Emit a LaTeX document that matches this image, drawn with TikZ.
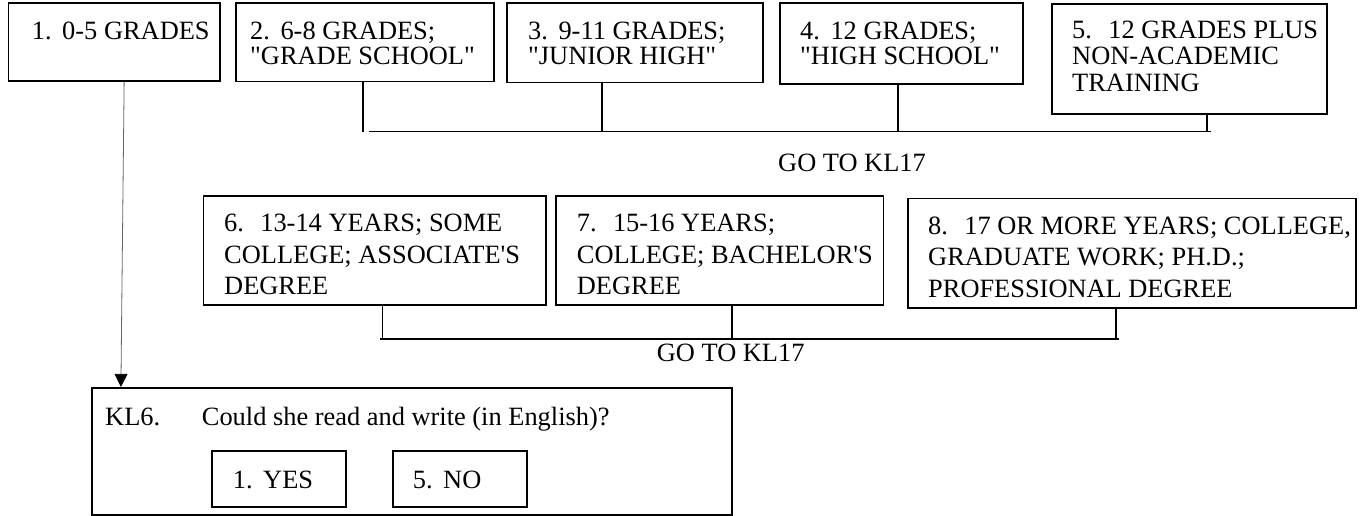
\documentclass[tikz,border=0pt]{standalone}
\usepackage{fontspec}
\setmainfont{Liberation Serif}
\usetikzlibrary{arrows.meta, fit}

\newcommand\tstrut{\rule{0pt}{19pt}}

\begin{document}
\begin{tikzpicture}[
x=1pt, y=-1pt,
box/.style={draw, line width=1.6pt, inner sep=0pt},
txt/.style={anchor=north west, inner sep=0pt, align=left, font=\fontsize{26.4}{25}\selectfont},
wide/.style={txt, font=\fontsize{26.4}{31.4}\selectfont},
link/.style={line width=1.6pt},
thinlink/.style={-{Triangle[width=13pt,length=13pt,color=black]}, line width=0.8pt, draw=black!60}
]
\useasboundingbox (0,0) rectangle (1362,516);

% --- Première rangée ---
\node[box, fit={(8.3,3.3) (220,81)}] (g1) {};
\node[box, fit={(235.7,3.3) (494,81.7)}] (g2) {};
\node[box, fit={(507,3.3) (763,82.7)}] (g3) {};
\node[box, fit={(780,3.3) (1023,84.3)}] (g4) {};
\node[box, fit={(1052,4) (1327,114.3)}] (g5) {};

\node[txt] (g1t) at (31.7,20) {\tstrut 1.\hspace{0.4em}0-5 GRADES};
\node[txt] (g2t) at (250,20) {\tstrut 2.\hspace{0.4em}6-8 GRADES;\\\textquotedbl GRADE SCHOOL\textquotedbl};
\node[txt] (g3t) at (528,20) {\tstrut 3.\hspace{0.4em}9-11 GRADES;\\\textquotedbl JUNIOR HIGH\textquotedbl};
\node[txt] (g4t) at (800,20) {\tstrut 4.\hspace{0.4em}12 GRADES;\\\textquotedbl HIGH SCHOOL\textquotedbl};
\node[txt, font=\fontsize{26.4}{26.3}\selectfont] (g5t) at (1072,19.3)
  {\tstrut 5.\hspace{0.62em}12 GRADES PLUS\\NON-ACADEMIC\\TRAINING};

% --- Accolade 2-5 ---
\coordinate (bar1w) at (369,131.7);
\coordinate (bar1e) at (1211,131.7);
\draw[link] (bar1w) -- (bar1e);
\draw[link] ([xshift=-2pt]g2.south) -- ([xshift=-2pt]g2.south |- bar1w);
\draw[link] ([xshift=-33pt]g3.south) -- ([xshift=-33pt]g3.south |- bar1w);
\draw[link] ([xshift=-3.5pt]g4.south) -- ([xshift=-3.5pt]g4.south |- bar1w);
\draw[link] ([xshift=17.5pt]g5.south) -- ([xshift=17.5pt]g5.south |- bar1w);
\node[txt] (goto1) at (778,152) {\tstrut GO TO KL17};

% --- Deuxième rangée ---
\node[box, fit={(203.3,195.7) (545.7,305)}] (g6) {};
\node[box, fit={(555.7,195.7) (883.3,304.7)}] (g7) {};
\node[box, fit={(907.7,198.3) (1356,308)}] (g8) {};

\node[wide] (g6t) at (224,212.7)
  {\tstrut 6.\hspace{0.62em}13-14 YEARS; SOME\\COLLEGE; ASSOCIATE\textquotesingle S\\DEGREE};
\node[wide] (g7t) at (576.7,212.7)
  {\tstrut 7.\hspace{0.62em}15-16 YEARS;\\COLLEGE; BACHELOR\textquotesingle S\\DEGREE};
\node[wide] (g8t) at (928,215)
  {\tstrut 8.\hspace{0.62em}17 OR MORE YEARS; COLLEGE,\\GRADUATE WORK; PH.D.;\\PROFESSIONAL DEGREE};

% --- Accolade 6-8 ---
\coordinate (bar2w) at (380,339);
\coordinate (bar2e) at (1119,339);
\draw[link] (bar2w) -- (bar2e);
\draw[link] ([xshift=8pt]g6.south) -- ([xshift=8pt]g6.south |- bar2w);
\draw[link] ([xshift=12.5pt]g7.south) -- ([xshift=12.5pt]g7.south |- bar2w);
\draw[link] ([xshift=-16pt]g8.south) -- ([xshift=-16pt]g8.south |- bar2w);
\node[txt] (goto2) at (656.7,342.7) {\tstrut GO TO KL17};

% --- Question KL6 ---
\node[box, fit={(91.7,387.7) (731.7,515)}] (kl6) {};
\node[txt] (kl6n) at (105,406) {\tstrut KL6.};
\node[txt] (kl6q) at (201.7,406) {\tstrut Could she read and write (in English)?};
\node[box, fit={(211.7,451) (345.7,506.7)}] (yes) {};
\node[box, fit={(392.7,451) (526.7,507)}] (no) {};
\node[txt] (yest) at (232.7,469.3) {\tstrut 1.\hspace{0.4em}YES};
\node[txt] (not) at (412.7,469.3) {\tstrut 5.\hspace{0.4em}NO};

% --- Flèche 1 -> KL6 ---
\draw[thinlink] ([xshift=10pt]g1.south) -- ([xshift=30pt]kl6.north west);

\end{tikzpicture}
\end{document}
